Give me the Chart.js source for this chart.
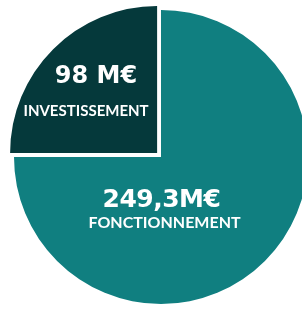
<!DOCTYPE html>
<html lang="fr">
<head>
    <meta charset="UTF-8">
    <title>Budget : investissement et fonctionnement</title>
    <script src="https://cdn.jsdelivr.net/npm/chart.js"></script>
    <style>
        html, body {
            margin: 0;
            padding: 0;
            background: #ffffff;
            overflow: hidden;
            width: 302px;
            height: 311px;
        }
        #budgetChart {
            position: absolute;
            left: 0;
            top: 0;
        }
    </style>
</head>
<body>
    <canvas id="budgetChart" width="322" height="314"></canvas>

    <script>
        // Data (slice shares as drawn, amounts as printed)
        const categories = ['INVESTISSEMENT', 'FONCTIONNEMENT'];
        const sliceShares = [25, 75];
        const amountLabels = ['98 M€', '249,3M€'];
        const sliceColors = ['#05393b', '#107f80'];

        // label baselines, in fractions of the radius from the pie centre
        const labelStyles = [
            { ax: -0.442, ay: -0.501, bigFont: 'bold 24px "DejaVu Sans"', bigSpacing: '0px',
              nx: -0.510, ny: -0.279, smallFont: '700 15px Lato' },
            { ax: 0.003, ay: 0.337, bigFont: 'bold 25px "DejaVu Sans"', bigSpacing: '-0.5px',
              nx: 0.024, ny: 0.483, smallFont: '700 16px Lato' }
        ];

        const sliceLabels = {
            id: 'sliceLabels',
            afterDatasetsDraw(chart) {
                const ctx = chart.ctx;
                const arcs = chart.getDatasetMeta(0).data;
                ctx.save();
                ctx.fillStyle = '#ffffff';
                ctx.textAlign = 'center';
                ctx.textBaseline = 'alphabetic';
                arcs.forEach((arc, i) => {
                    const s = labelStyles[i];
                    const r = arc.outerRadius;
                    ctx.font = s.bigFont;
                    ctx.letterSpacing = s.bigSpacing;
                    ctx.fillText(amountLabels[i], arc.x + s.ax * r, arc.y + s.ay * r);
                    ctx.font = s.smallFont;
                    ctx.letterSpacing = '0px';
                    ctx.fillText(categories[i], arc.x + s.nx * r, arc.y + s.ny * r);
                });
                ctx.restore();
            }
        };

        new Chart(document.getElementById('budgetChart'), {
            type: 'pie',
            data: {
                labels: categories,
                datasets: [{
                    data: sliceShares,
                    backgroundColor: sliceColors,
                    borderWidth: 0,
                    offset: [22, 0]
                }]
            },
            options: {
                responsive: false,
                animation: false,
                rotation: -90,
                radius: 147,
                layout: { padding: 0 },
                plugins: {
                    legend: { display: false },
                    tooltip: { enabled: false }
                }
            },
            plugins: [sliceLabels]
        });
    </script>
</body>
</html>
